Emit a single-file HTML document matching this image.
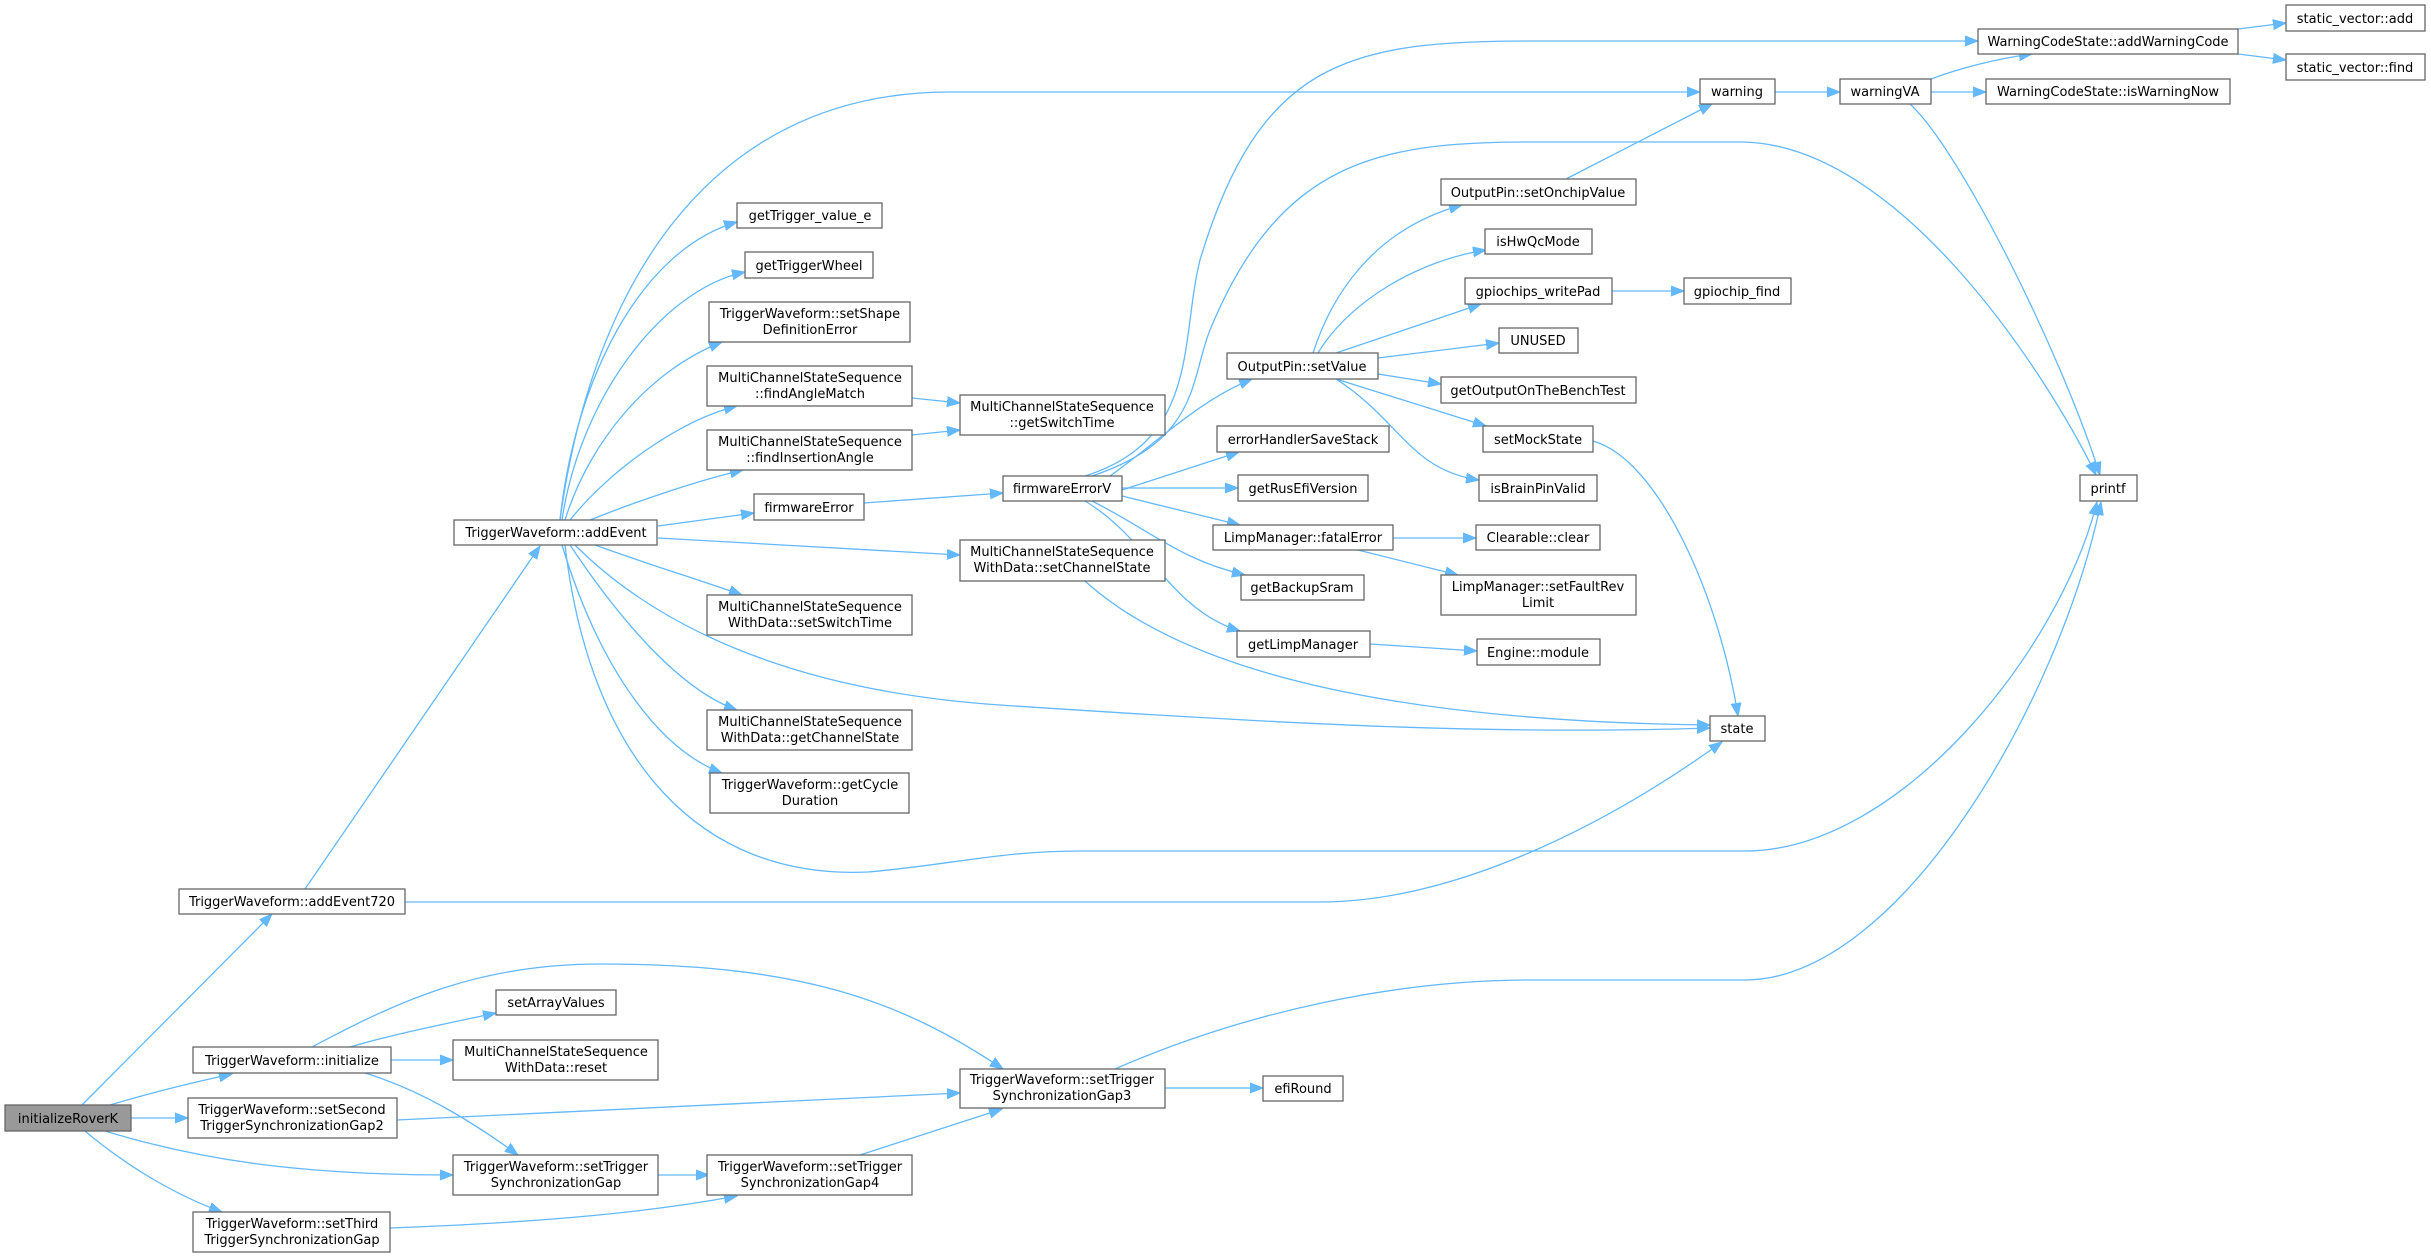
<!DOCTYPE html>
<html><head><meta charset="utf-8"><style>
html,body{margin:0;padding:0;background:#fff;}
svg{display:block;}
text{font-family:"DejaVu Sans","Liberation Sans",sans-serif;font-size:13px;fill:#000;text-anchor:middle;}
.b{fill:#fff;stroke:#666;stroke-width:1.3;}
.g{fill:#999;stroke:#666;stroke-width:1.3;}
.e{fill:none;stroke:#63b8ff;stroke-width:1.3;marker-end:url(#a);}
</style></head><body>
<svg width="2431" height="1258" viewBox="0 0 2431 1258" xmlns="http://www.w3.org/2000/svg">
<defs><marker id="a" markerUnits="userSpaceOnUse" markerWidth="14" markerHeight="12" refX="13" refY="6" orient="auto"><path d="M0,1 L13,6 L0,11 Z" fill="#63b8ff" stroke="#63b8ff"/></marker></defs>

<!-- edges -->
<path class="e" d="M82,1105 L272,914"/>
<path class="e" d="M110,1105 C150,1093 195,1082 232,1074"/>
<path class="e" d="M131,1118 L188,1118"/>
<path class="e" d="M105,1131 C200,1160 300,1175 453,1175"/>
<path class="e" d="M85,1131 C125,1165 175,1195 222,1212"/>
<path class="e" d="M305,889 L540,546"/>
<path class="e" d="M405,902 L1320,902 C1450,902 1600,830 1722,742"/>
<path class="e" d="M350,1047 C390,1035 440,1025 496,1013"/>
<path class="e" d="M391,1060 L453,1060"/>
<path class="e" d="M312,1047 C400,1000 480,964 600,964 C800,964 900,1000 1003,1069"/>
<path class="e" d="M365,1073 C420,1090 470,1120 518,1155"/>
<path class="e" d="M397,1120 L960,1093"/>
<path class="e" d="M658,1175 L709,1175"/>
<path class="e" d="M390,1228 C550,1222 650,1212 737,1196"/>
<path class="e" d="M860,1155 L1002,1109"/>
<path class="e" d="M1165,1088 L1263,1088"/>
<path class="e" d="M1115,1069 C1250,1010 1400,980 1530,980 L1745,980 C1900,980 2060,700 2101,502"/>
<path class="e" d="M560,520 C590,300 700,92 950,92 L1700,92"/>
<path class="e" d="M560,520 C575,380 640,250 737,222"/>
<path class="e" d="M562,520 C580,400 660,290 745,272"/>
<path class="e" d="M565,520 C590,440 650,370 722,342"/>
<path class="e" d="M570,520 C610,470 680,420 737,406"/>
<path class="e" d="M590,520 C640,500 700,480 743,470"/>
<path class="e" d="M658,526 L754,513"/>
<path class="e" d="M658,538 L960,555"/>
<path class="e" d="M595,545 C650,565 700,580 742,595"/>
<path class="e" d="M570,545 C620,620 680,690 737,710"/>
<path class="e" d="M562,545 C600,670 660,750 722,773"/>
<path class="e" d="M575,545 C650,620 780,690 1000,705 C1300,725 1500,735 1710,728"/>
<path class="e" d="M565,545 C590,760 700,880 868,872 C950,865 1000,851 1080,851 L1745,851 C1900,851 2060,650 2097,502"/>
<path class="e" d="M912,398 L960,403"/>
<path class="e" d="M912,435 L960,430"/>
<path class="e" d="M864,503 L1003,493"/>
<path class="e" d="M1085,581 C1150,640 1300,720 1710,725"/>
<path class="e" d="M1085,476 C1200,440 1180,340 1200,260 C1260,60 1350,41 1530,41 L1978,41"/>
<path class="e" d="M1092,476 C1200,440 1190,380 1210,330 C1280,160 1380,142 1530,142 L1740,142 C1900,142 2050,380 2096,475"/>
<path class="e" d="M1110,476 C1160,440 1200,400 1252,379"/>
<path class="e" d="M1122,490 L1239,452"/>
<path class="e" d="M1122,488 L1238,488"/>
<path class="e" d="M1122,496 L1240,525"/>
<path class="e" d="M1092,501 C1150,530 1180,560 1245,575"/>
<path class="e" d="M1085,501 C1150,540 1170,610 1240,631"/>
<path class="e" d="M1313,353 C1330,300 1370,230 1462,205"/>
<path class="e" d="M1318,353 C1350,300 1420,260 1486,250"/>
<path class="e" d="M1336,353 L1481,304"/>
<path class="e" d="M1378,358 L1499,343"/>
<path class="e" d="M1378,374 L1441,384"/>
<path class="e" d="M1336,379 L1486,426"/>
<path class="e" d="M1336,379 C1400,420 1410,470 1479,480"/>
<path class="e" d="M1566,179 L1712,104"/>
<path class="e" d="M1612,291 L1684,291"/>
<path class="e" d="M1593,441 C1660,460 1720,600 1738,716"/>
<path class="e" d="M1393,538 L1476,538"/>
<path class="e" d="M1358,550 L1458,575"/>
<path class="e" d="M1370,644 L1477,651"/>
<path class="e" d="M1775,92 L1840,92"/>
<path class="e" d="M1931,79 C1960,68 2000,58 2032,54"/>
<path class="e" d="M1931,92 L1986,92"/>
<path class="e" d="M1910,104 C1960,150 2060,350 2100,475"/>
<path class="e" d="M2238,29 L2286,23"/>
<path class="e" d="M2238,54 L2286,60"/>

<!-- nodes -->
<rect class="g" x="5" y="1105" width="126" height="26"/><text x="68" y="1123">initializeRoverK</text>
<rect class="b" x="179" y="889" width="226" height="25"/><text x="292" y="906">TriggerWaveform::addEvent720</text>
<rect class="b" x="193" y="1047" width="198" height="26"/><text x="292" y="1065">TriggerWaveform::initialize</text>
<rect class="b" x="188" y="1098" width="209" height="40"/><text x="292" y="1114">TriggerWaveform::setSecond</text><text x="292" y="1130">TriggerSynchronizationGap2</text>
<rect class="b" x="193" y="1212" width="197" height="40"/><text x="292" y="1228">TriggerWaveform::setThird</text><text x="292" y="1244">TriggerSynchronizationGap</text>
<rect class="b" x="454" y="520" width="203" height="25"/><text x="556" y="537">TriggerWaveform::addEvent</text>
<rect class="b" x="496" y="990" width="120" height="25"/><text x="556" y="1007">setArrayValues</text>
<rect class="b" x="453" y="1040" width="205" height="40"/><text x="556" y="1056">MultiChannelStateSequence</text><text x="556" y="1072">WithData::reset</text>
<rect class="b" x="453" y="1155" width="205" height="40"/><text x="556" y="1171">TriggerWaveform::setTrigger</text><text x="556" y="1187">SynchronizationGap</text>
<rect class="b" x="737" y="203" width="145" height="25"/><text x="810" y="220">getTrigger_value_e</text>
<rect class="b" x="745" y="252" width="128" height="26"/><text x="809" y="270">getTriggerWheel</text>
<rect class="b" x="709" y="302" width="201" height="40"/><text x="810" y="318">TriggerWaveform::setShape</text><text x="810" y="334">DefinitionError</text>
<rect class="b" x="707" y="366" width="205" height="40"/><text x="810" y="382">MultiChannelStateSequence</text><text x="810" y="398">::findAngleMatch</text>
<rect class="b" x="707" y="430" width="205" height="40"/><text x="810" y="446">MultiChannelStateSequence</text><text x="810" y="462">::findInsertionAngle</text>
<rect class="b" x="754" y="494" width="110" height="26"/><text x="809" y="512">firmwareError</text>
<rect class="b" x="707" y="595" width="205" height="40"/><text x="810" y="611">MultiChannelStateSequence</text><text x="810" y="627">WithData::setSwitchTime</text>
<rect class="b" x="707" y="710" width="205" height="40"/><text x="810" y="726">MultiChannelStateSequence</text><text x="810" y="742">WithData::getChannelState</text>
<rect class="b" x="710" y="773" width="199" height="40"/><text x="810" y="789">TriggerWaveform::getCycle</text><text x="810" y="805">Duration</text>
<rect class="b" x="707" y="1155" width="205" height="40"/><text x="810" y="1171">TriggerWaveform::setTrigger</text><text x="810" y="1187">SynchronizationGap4</text>
<rect class="b" x="960" y="395" width="205" height="40"/><text x="1062" y="411">MultiChannelStateSequence</text><text x="1062" y="427">::getSwitchTime</text>
<rect class="b" x="1003" y="476" width="119" height="25"/><text x="1062" y="493">firmwareErrorV</text>
<rect class="b" x="960" y="540" width="205" height="41"/><text x="1062" y="556">MultiChannelStateSequence</text><text x="1062" y="572">WithData::setChannelState</text>
<rect class="b" x="960" y="1069" width="205" height="39"/><text x="1062" y="1084">TriggerWaveform::setTrigger</text><text x="1062" y="1100">SynchronizationGap3</text>
<rect class="b" x="1263" y="1076" width="80" height="25"/><text x="1303" y="1093">efiRound</text>
<rect class="b" x="1227" y="353" width="151" height="26"/><text x="1302" y="371">OutputPin::setValue</text>
<rect class="b" x="1217" y="426" width="172" height="26"/><text x="1303" y="444">errorHandlerSaveStack</text>
<rect class="b" x="1238" y="475" width="130" height="26"/><text x="1303" y="493">getRusEfiVersion</text>
<rect class="b" x="1213" y="525" width="180" height="25"/><text x="1303" y="542">LimpManager::fatalError</text>
<rect class="b" x="1241" y="575" width="123" height="25"/><text x="1302" y="592">getBackupSram</text>
<rect class="b" x="1237" y="631" width="133" height="26"/><text x="1303" y="649">getLimpManager</text>
<rect class="b" x="1441" y="179" width="195" height="26"/><text x="1538" y="197">OutputPin::setOnchipValue</text>
<rect class="b" x="1485" y="229" width="107" height="25"/><text x="1538" y="246">isHwQcMode</text>
<rect class="b" x="1465" y="278" width="147" height="26"/><text x="1538" y="296">gpiochips_writePad</text>
<rect class="b" x="1499" y="328" width="79" height="25"/><text x="1538" y="345">UNUSED</text>
<rect class="b" x="1441" y="377" width="195" height="26"/><text x="1538" y="395">getOutputOnTheBenchTest</text>
<rect class="b" x="1483" y="426" width="110" height="26"/><text x="1538" y="444">setMockState</text>
<rect class="b" x="1479" y="475" width="118" height="26"/><text x="1538" y="493">isBrainPinValid</text>
<rect class="b" x="1476" y="525" width="124" height="25"/><text x="1538" y="542">Clearable::clear</text>
<rect class="b" x="1441" y="575" width="195" height="40"/><text x="1538" y="591">LimpManager::setFaultRev</text><text x="1538" y="607">Limit</text>
<rect class="b" x="1477" y="639" width="123" height="26"/><text x="1538" y="657">Engine::module</text>
<rect class="b" x="1684" y="278" width="107" height="26"/><text x="1737" y="296">gpiochip_find</text>
<rect class="b" x="1700" y="79" width="75" height="25"/><text x="1737" y="96">warning</text>
<rect class="b" x="1710" y="716" width="55" height="25"/><text x="1737" y="733">state</text>
<rect class="b" x="1840" y="79" width="91" height="25"/><text x="1885" y="96">warningVA</text>
<rect class="b" x="1978" y="29" width="260" height="25"/><text x="2108" y="46">WarningCodeState::addWarningCode</text>
<rect class="b" x="1986" y="79" width="244" height="25"/><text x="2108" y="96">WarningCodeState::isWarningNow</text>
<rect class="b" x="2080" y="475" width="57" height="26"/><text x="2108" y="493">printf</text>
<rect class="b" x="2286" y="5" width="139" height="26"/><text x="2355" y="23">static_vector::add</text>
<rect class="b" x="2286" y="54" width="139" height="26"/><text x="2355" y="72">static_vector::find</text>
</svg>
</body></html>
